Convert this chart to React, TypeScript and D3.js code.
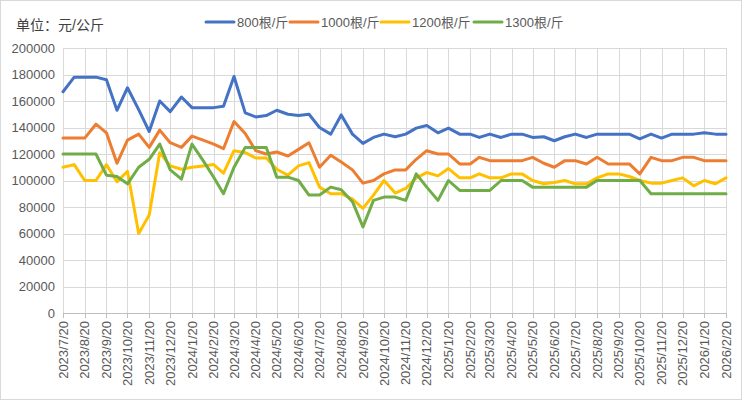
import React from "react";
import * as d3 from "d3";

const dates: string[] = [
  "2023-07-20","2023-08-05","2023-08-20","2023-09-05","2023-09-20","2023-10-05","2023-10-20","2023-11-05","2023-11-20","2023-12-05","2023-12-20",
  "2024-01-05","2024-01-20","2024-02-05","2024-02-20","2024-03-05","2024-03-20","2024-04-05","2024-04-20","2024-05-05","2024-05-20","2024-06-05","2024-06-20",
  "2024-07-05","2024-07-20","2024-08-05","2024-08-20","2024-09-05","2024-09-20","2024-10-05","2024-10-20","2024-11-05","2024-11-20","2024-12-05","2024-12-20",
  "2025-01-05","2025-01-20","2025-02-05","2025-02-20","2025-03-05","2025-03-20","2025-04-05","2025-04-20","2025-05-05","2025-05-20","2025-06-05","2025-06-20",
  "2025-07-05","2025-07-20","2025-08-05","2025-08-20","2025-09-05","2025-09-20","2025-10-05","2025-10-20","2025-11-05","2025-11-20","2025-12-05","2025-12-20",
  "2026-01-05","2026-01-20","2026-02-05","2026-02-20",
];

const s800: number[] = [
  167000,178000,178000,178000,176000,153000,170000,153500,137000,160000,152000,
  163000,155000,155000,155000,156000,178500,151000,148000,149000,153000,150000,149000,
  150000,140000,135000,149500,135000,128000,132500,135000,133000,135000,139500,141500,
  136000,139500,135000,135000,132500,135000,132500,135000,135000,132500,133000,130000,
  133000,135000,132500,135000,135000,135000,135000,131500,135000,132000,135000,135000,
  135000,136000,135000,135000,
];
const s1000: number[] = [
  132000,132000,132000,142500,136000,113000,130500,135000,125000,138000,128500,
  125000,133500,130500,127500,124000,144500,135500,122500,120000,121500,118500,123500,
  128500,110000,119000,114000,108000,98000,100000,105000,108000,108000,116000,122500,
  120000,120000,112500,112500,117500,115000,115000,115000,115000,117500,113000,110000,
  115000,115000,112500,117500,112500,112500,112500,105000,117500,115000,115000,117500,
  117500,115000,115000,115000,
];
const s1200: number[] = [
  110000,112000,100000,100000,112000,99000,107000,60000,74000,121000,111000,
  108500,110000,111000,112000,105500,122500,121000,117000,117000,108500,104000,111000,
  113500,95000,90000,90000,86000,79000,89000,100000,90500,94000,102000,106000,
  103500,109000,102000,102000,105000,102000,102000,105000,105000,100000,97500,98500,
  100000,97500,97500,102000,105000,105000,103000,100000,98000,98000,100000,102000,
  96000,100000,97500,102000,
];
const s1300: number[] = [
  120000,120000,120000,120000,104000,103000,97500,110000,116000,127500,108000,
  101000,127500,115000,102500,90000,110000,125000,125000,125000,102500,102500,100000,
  89000,89000,95000,93000,84000,65000,85000,87500,87500,85000,105000,95000,
  85000,100000,92500,92500,92500,92500,100000,100000,100000,95000,95000,95000,
  95000,95000,95000,100000,100000,100000,100000,100000,90000,90000,90000,90000,
  90000,90000,90000,90000,
];

const tickLabels: string[] = [
  "2023/7/20","2023/8/20","2023/9/20","2023/10/20","2023/11/20","2023/12/20",
  "2024/1/20","2024/2/20","2024/3/20","2024/4/20","2024/5/20","2024/6/20",
  "2024/7/20","2024/8/20","2024/9/20","2024/10/20","2024/11/20","2024/12/20",
  "2025/1/20","2025/2/20","2025/3/20","2025/4/20","2025/5/20","2025/6/20",
  "2025/7/20","2025/8/20","2025/9/20","2025/10/20","2025/11/20","2025/12/20",
  "2026/1/20","2026/2/20",
];
const yTicks: number[] = [0,20000,40000,60000,80000,100000,120000,140000,160000,180000,200000];

const seriesNames: string[] = ["800根/斤","1000根/斤","1200根/斤","1300根/斤"];
const seriesColors: string[] = ["#4472C4","#ED7D31","#FFC000","#70AD47"];
const seriesData: number[][] = [s800, s1000, s1200, s1300];

const W = 742, H = 400;
const left = 63, right = 726, top = 48, bottom = 313;
const FONT = "'Liberation Sans', Arial, 'Noto Sans CJK SC', sans-serif";

export default function App() {
  const parseIso = d3.timeParse("%Y-%m-%d");
  const parseTick = d3.timeParse("%Y/%m/%d");
  const xDates = dates.map((d) => parseIso(d) as Date);
  const tickDates = tickLabels.map((t) => parseTick(t) as Date);
  const x = d3.scaleTime().domain([tickDates[0], tickDates[tickDates.length - 1]]).range([left, right]);
  const y = d3.scaleLinear().domain([0, 200000]).range([bottom, top]);
  const line = d3.line<[Date, number]>().x((d) => x(d[0])).y((d) => y(d[1]));

  const legendStarts = [206, 290, 381, 474];

  return (
    <svg width={W} height={H} style={{ position: "absolute", left: 0, top: 0, background: "#fff" }} fontFamily={FONT}>
      <rect x={0.5} y={0.5} width={W - 1} height={H - 1} fill="#fff" stroke="#d9d9d9" />
      {yTicks.map((v) => (
        <g key={"y" + v}>
          <line x1={left} x2={right} y1={Math.round(y(v)) + 0.5} y2={Math.round(y(v)) + 0.5} stroke={v === 0 ? "#bfbfbf" : "#d9d9d9"} />
          <text x={55} y={y(v)} dy="0.35em" textAnchor="end" fontSize={13} fill="#595959">{v}</text>
        </g>
      ))}
      {tickDates.map((d, i) => {
        const xx = Math.round(x(d)) + 0.5;
        return (
          <g key={"x" + i}>
            <line x1={xx} x2={xx} y1={top} y2={bottom} stroke="#d9d9d9" />
            <line x1={xx} x2={xx} y1={bottom} y2={bottom + 5} stroke="#bfbfbf" />
            <text transform={`translate(${x(d)},${bottom + 8}) rotate(-90)`} textAnchor="end" dy="0.35em" fontSize={13} fill="#595959">{tickLabels[i]}</text>
          </g>
        );
      })}
      {seriesData.map((s, si) => (
        <path key={"s" + si} d={line(s.map((v, i) => [xDates[i], v] as [Date, number])) || ""} fill="none" stroke={seriesColors[si]} strokeWidth={3} strokeLinejoin="round" strokeLinecap="round" />
      ))}
      <text x={16} y={30} fontSize={14} fill="#404040">单位：元/公斤</text>
      {seriesNames.map((n, i) => (
        <g key={"l" + i}>
          <line x1={legendStarts[i]} x2={legendStarts[i] + 28} y1={22} y2={22} stroke={seriesColors[i]} strokeWidth={3} strokeLinecap="round" />
          <text x={legendStarts[i] + 31} y={22} dy="0.35em" fontSize={13} fill="#595959">{n}</text>
        </g>
      ))}
    </svg>
  );
}
